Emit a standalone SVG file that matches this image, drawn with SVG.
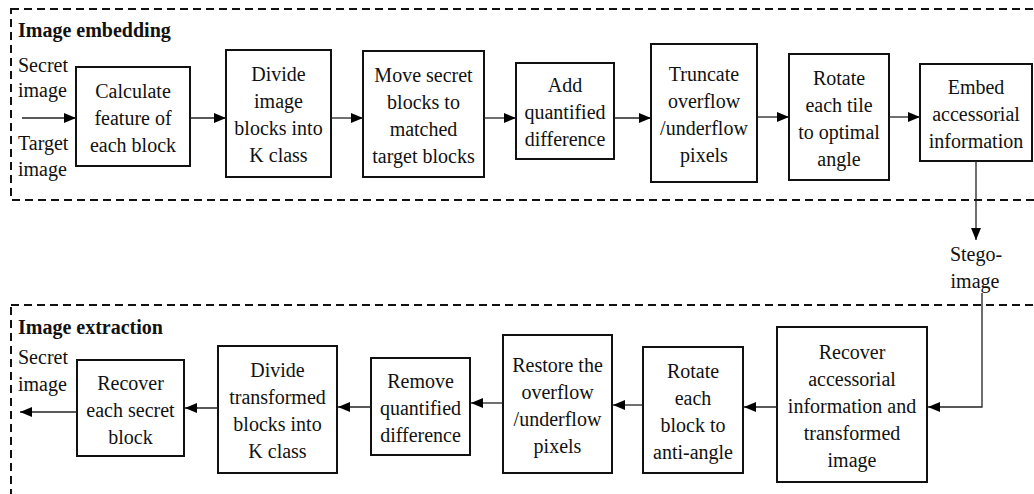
<svg xmlns="http://www.w3.org/2000/svg" width="1034" height="494" viewBox="0 0 1034 494">
<defs>
<marker id="ah" markerWidth="12" markerHeight="10" refX="12" refY="5" orient="auto" markerUnits="userSpaceOnUse">
<path d="M0,0 L12,5 L0,10 Z" fill="#000"/>
</marker>
<style>
.frame{fill:none;stroke:#111;stroke-width:2;stroke-dasharray:8 5}
.box{fill:#fff;stroke:#111;stroke-width:2}
.t{font-family:"Liberation Serif","Times New Roman",serif;font-size:20px;fill:#111}
.c{text-anchor:middle}
.title{font-weight:bold}
.conn line,.conn polyline{fill:none;stroke:#222;stroke-width:1.3;marker-end:url(#ah)}
</style>
</defs>
<rect width="1034" height="494" fill="#fff"/>
<g id="frames">
<rect class="frame" x="11" y="9" width="1040" height="191"/>
<rect class="frame" x="11" y="305" width="1040" height="200"/>
</g>
<g id="labels">
<text class="t title" x="18" y="37">Image embedding</text>
<text class="t title" x="18" y="334">Image extraction</text>
<text class="t" x="18" y="72">Secret</text>
<text class="t" x="18" y="97">image</text>
<text class="t" x="18" y="150">Target</text>
<text class="t" x="18" y="176">image</text>
<text class="t c" x="976" y="261">Stego-</text>
<text class="t c" x="975" y="288">image</text>
<text class="t" x="18" y="364">Secret</text>
<text class="t" x="18" y="391">image</text>
</g>
<g id="n1"><rect class="box" x="76" y="67" width="114" height="99"/>
<text class="t c" x="133" y="98"><tspan x="133">Calculate</tspan><tspan x="133" dy="27">feature of</tspan><tspan x="133" dy="27">each block</tspan></text></g>
<g id="n2"><rect class="box" x="226" y="50" width="105" height="127"/>
<text class="t c" x="278.5" y="81"><tspan x="278.5">Divide</tspan><tspan x="278.5" dy="27">image</tspan><tspan x="278.5" dy="27">blocks into</tspan><tspan x="278.5" dy="27">K class</tspan></text></g>
<g id="n3"><rect class="box" x="363" y="51" width="121" height="126"/>
<text class="t c" x="423.5" y="82"><tspan x="423.5">Move secret</tspan><tspan x="423.5" dy="27">blocks to</tspan><tspan x="423.5" dy="27">matched</tspan><tspan x="423.5" dy="27">target blocks</tspan></text></g>
<g id="n4"><rect class="box" x="516" y="63" width="98" height="96"/>
<text class="t c" x="565" y="92"><tspan x="565">Add</tspan><tspan x="565" dy="27">quantified</tspan><tspan x="565" dy="27">difference</tspan></text></g>
<g id="n5"><rect class="box" x="651" y="44" width="106" height="138"/>
<text class="t c" x="704" y="81"><tspan x="704">Truncate</tspan><tspan x="704" dy="27">overflow</tspan><tspan x="704" dy="27">/underflow</tspan><tspan x="704" dy="27">pixels</tspan></text></g>
<g id="n6"><rect class="box" x="789" y="54" width="100" height="126"/>
<text class="t c" x="839" y="85"><tspan x="839">Rotate</tspan><tspan x="839" dy="27">each tile</tspan><tspan x="839" dy="27">to optimal</tspan><tspan x="839" dy="27">angle</tspan></text></g>
<g id="n7"><rect class="box" x="920" y="64" width="112" height="97"/>
<text class="t c" x="976" y="94"><tspan x="976">Embed</tspan><tspan x="976" dy="27">accessorial</tspan><tspan x="976" dy="27">information</tspan></text></g>
<g id="n8"><rect class="box" x="777" y="327" width="150" height="155"/>
<text class="t c" x="852" y="359"><tspan x="852">Recover</tspan><tspan x="852" dy="27">accessorial</tspan><tspan x="852" dy="27">information and</tspan><tspan x="852" dy="27">transformed</tspan><tspan x="852" dy="27">image</tspan></text></g>
<g id="n9"><rect class="box" x="643" y="347" width="100" height="126"/>
<text class="t c" x="693" y="378"><tspan x="693">Rotate</tspan><tspan x="693" dy="27">each</tspan><tspan x="693" dy="27">block to</tspan><tspan x="693" dy="27">anti-angle</tspan></text></g>
<g id="n10"><rect class="box" x="503" y="335" width="109" height="138"/>
<text class="t c" x="557.5" y="372"><tspan x="557.5">Restore the</tspan><tspan x="557.5" dy="27">overflow</tspan><tspan x="557.5" dy="27">/underflow</tspan><tspan x="557.5" dy="27">pixels</tspan></text></g>
<g id="n11"><rect class="box" x="371" y="358" width="99" height="97"/>
<text class="t c" x="420.5" y="388"><tspan x="420.5">Remove</tspan><tspan x="420.5" dy="27">quantified</tspan><tspan x="420.5" dy="27">difference</tspan></text></g>
<g id="n12"><rect class="box" x="218" y="346" width="119" height="127"/>
<text class="t c" x="277.5" y="377"><tspan x="277.5">Divide</tspan><tspan x="277.5" dy="27">transformed</tspan><tspan x="277.5" dy="27">blocks into</tspan><tspan x="277.5" dy="27">K class</tspan></text></g>
<g id="n13"><rect class="box" x="77" y="360" width="107" height="96"/>
<text class="t c" x="130.5" y="390"><tspan x="130.5">Recover</tspan><tspan x="130.5" dy="27">each secret</tspan><tspan x="130.5" dy="27">block</tspan></text></g>
<g id="connectors" class="conn">
<line x1="22" y1="118" x2="76" y2="118"/>
<line x1="190" y1="118" x2="226" y2="118"/>
<line x1="331" y1="118" x2="363" y2="118"/>
<line x1="484" y1="118" x2="516" y2="118"/>
<line x1="614" y1="118" x2="651" y2="118"/>
<line x1="757" y1="117" x2="789" y2="117"/>
<line x1="889" y1="117" x2="920" y2="117"/>
<line x1="976" y1="161" x2="976" y2="240"/>
<polyline points="982,293 982,407 928,407"/>
<line x1="777" y1="407" x2="744" y2="407"/>
<line x1="643" y1="405" x2="613" y2="405"/>
<line x1="503" y1="403" x2="471" y2="403"/>
<line x1="371" y1="407" x2="338" y2="407"/>
<line x1="218" y1="408" x2="185" y2="408"/>
<line x1="77" y1="412" x2="20" y2="412"/>
</g>
</svg>
